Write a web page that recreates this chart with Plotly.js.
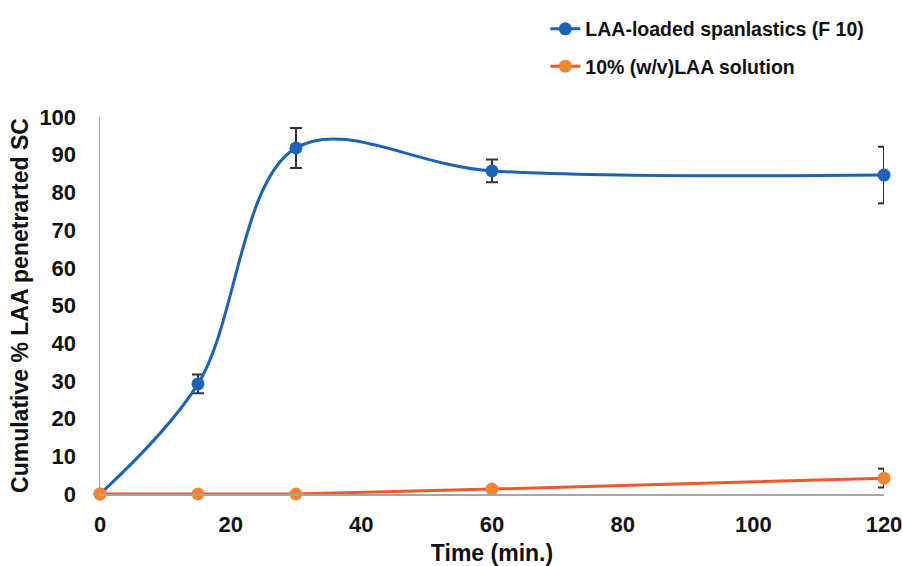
<!DOCTYPE html>
<html><head><meta charset="utf-8">
<script src="https://cdn.plot.ly/plotly-3.0.1.min.js"></script>
<style>html,body{margin:0;padding:0;background:#fff}#chart{width:903px;height:566px}</style>
</head><body><div id="chart"></div>
<script>
const time = [0, 15, 30, 60, 120];
const spanlastics = [0, 29.2, 91.8, 85.7, 84.6];
const spanlasticsErr = [0, 2.5, 5.3, 3.0, 7.5];
const solution = [0, 0, 0, 1.3, 4.2];
const solutionErr = [0, 0, 0, 0, 2.5];
const seriesNames = ['LAA-loaded spanlastics (F 10)', '10% (w/v)LAA solution'];
const xTicks = [0, 20, 40, 60, 80, 100, 120];
const yTicks = [0, 10, 20, 30, 40, 50, 60, 70, 80, 90, 100];

const fam = 'Liberation Sans, Arial, sans-serif';
const bold = (size) => ({family: fam, size: size, color: '#111', weight: 'bold'});
const traces = [
  {x: time, y: spanlastics, name: seriesNames[0], mode: 'lines+markers', legendgroup: 'a',
   line: {color: '#1b63b8', width: 3, shape: 'spline', smoothing: 1.0},
   marker: {color: '#1b63b8', size: 13},
   error_y: {type: 'data', array: spanlasticsErr, visible: true, color: '#333', thickness: 2, width: 6},
   cliponaxis: false},
  {x: time, y: solution, name: seriesNames[1], mode: 'lines+markers', legendgroup: 'b',
   line: {color: '#f0582a', width: 3},
   marker: {color: '#f5862f', size: 13},
   error_y: {type: 'data', array: solutionErr, visible: true, color: '#333', thickness: 2, width: 6},
   cliponaxis: false}
];
const layout = {
  width: 903, height: 566,
  margin: {l: 100, r: 19, t: 117, b: 72},
  paper_bgcolor: '#fff', plot_bgcolor: '#fff',
  font: bold(19),
  showlegend: true,
  legend: {x: 0.568, y: 0.983, yref: 'container', xanchor: 'left', yanchor: 'top', bgcolor: 'rgba(0,0,0,0)',
           font: bold(19.5), tracegroupgap: 9, traceorder: 'grouped'},
  xaxis: {range: [0, 120], tickvals: xTicks, showgrid: false, zeroline: false,
          showline: true, linecolor: '#a6a6a6', linewidth: 1.5, ticks: '', ticklabelstandoff: 10,
          tickfont: bold(22),
          title: {text: 'Time (min.)', standoff: 10, font: bold(23)}},
  yaxis: {range: [0, 100], tickvals: yTicks, showgrid: false, zeroline: false,
          showline: true, linecolor: '#a6a6a6', linewidth: 1.5, ticks: '', ticklabelstandoff: 18,
          tickfont: bold(22),
          title: {text: 'Cumulative % LAA penetrarted SC', standoff: 4, font: bold(23)}}
};
Plotly.newPlot('chart', traces, layout, {displayModeBar: false, staticPlot: true});
</script></body></html>
